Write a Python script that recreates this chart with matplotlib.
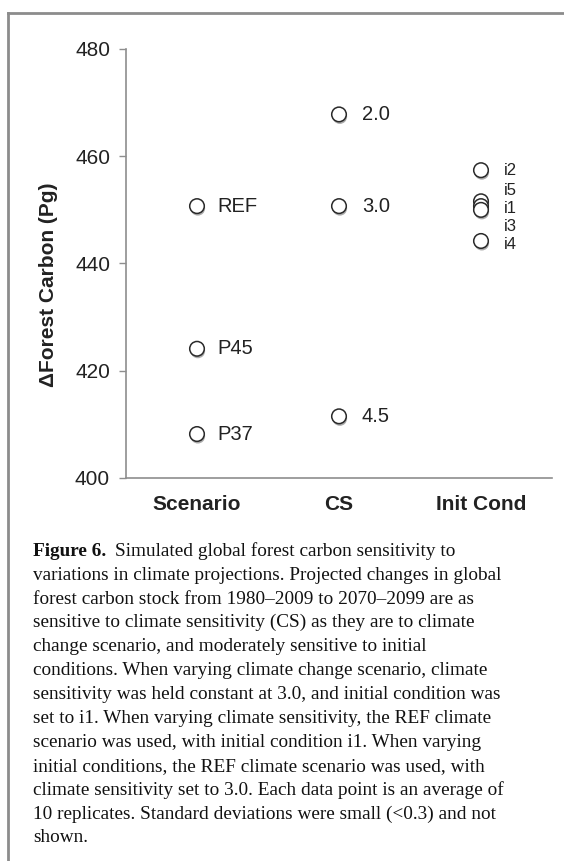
#!/usr/bin/env python3
"""Figure 6: forest carbon sensitivity to climate projection choices."""
from __future__ import annotations

import matplotlib
matplotlib.use("Agg")
import matplotlib.pyplot as plt
import matplotlib.patheffects as pe
from matplotlib.lines import Line2D

W, H, DPI = 564, 861, 100
FRAME = "#8c8c8c"
AXIS = "#8e8e8e"
INK = "#222222"

groups = ["Scenario", "CS", "Init Cond"]

scen_names = ["REF", "P45", "P37"]
scen_vals = [450.7, 424.1, 408.2]

cs_names = ["2.0", "3.0", "4.5"]
cs_vals = [467.8, 450.7, 411.5]

init_names = ["i2", "i5", "i1", "i3", "i4"]
init_vals = [457.4, 451.6, 450.7, 450.0, 444.2]

yticks = [400, 420, 440, 460, 480]

caption = [
    "variations in climate projections. Projected changes in global",
    "forest carbon stock from 1980\u20132009 to 2070\u20132099 are as",
    "sensitive to climate sensitivity (CS) as they are to climate",
    "change scenario, and moderately sensitive to initial",
    "conditions. When varying climate change scenario, climate",
    "sensitivity was held constant at 3.0, and initial condition was",
    "set to i1. When varying climate sensitivity, the REF climate",
    "scenario was used, with initial condition i1. When varying",
    "initial conditions, the REF climate scenario was used, with",
    "climate sensitivity set to 3.0. Each data point is an average of",
    "10 replicates. Standard deviations were small (<0.3) and not",
    "shown.",
]

plt.rcParams.update({"font.family": ["Liberation Sans", "DejaVu Sans"]})

fig = plt.figure(figsize=(W / DPI, H / DPI), dpi=DPI)
fig.patch.set_facecolor("white")

# grey frame round the figure panel (left and top edges)
fx, fy = 8 / W, 1 - 13 / H
fig.add_artist(Line2D([fx, fx], [0, fy], color=FRAME, lw=2, transform=fig.transFigure))
fig.add_artist(Line2D([fx, 1], [fy, fy], color=FRAME, lw=2, transform=fig.transFigure))

left, right = 126 / W, 552 / W
top, bottom = 1 - 49 / H, 1 - 478 / H
ax = fig.add_axes([left, bottom, right - left, top - bottom])

shadow = [pe.SimplePatchShadow(offset=(0.6, -1.6), shadow_rgbFace="0.35", alpha=0.5), pe.Normal()]
mk = dict(marker="o", ms=10.5, mfc="white", mec="#2a2a2a", mew=1.1, ls="none",
          path_effects=shadow, zorder=3)


def column(x, names, vals, dx, size, dys=None):
    ax.plot([x] * len(vals), vals, **mk)
    for i, (n, v) in enumerate(zip(names, vals)):
        dy = dys[i] if dys else 0
        ax.annotate(n, (x, v), xytext=(dx, dy), textcoords="offset pixels",
                    ha="left", va="center", fontsize=size, color=INK)


column(0, scen_names, scen_vals, 20, 14.5)
column(1, cs_names, cs_vals, 23, 14.5)
column(2, init_names, init_vals, 23, 12, dys=[0, 11, -2, -17, -4])

ax.set_xlim(-0.5, 2.5)
ax.set_ylim(400, 480)
ax.set_yticks(yticks)
ax.set_yticklabels([str(t) for t in yticks], fontsize=15, color=INK)
ax.set_xticks(range(len(groups)))
ax.set_xticklabels(groups, fontsize=15, fontweight="bold", color=INK)
ax.tick_params(axis="x", length=0, pad=12)
ax.tick_params(axis="y", length=5, width=1, color=AXIS, pad=6.5)
for s in ("top", "right"):
    ax.spines[s].set_visible(False)
for s in ("left", "bottom"):
    ax.spines[s].set_color(AXIS)
    ax.spines[s].set_linewidth(1.2)

fig.text(49 / W, 1 - 285 / H, "\u0394Forest Carbon (Pg)", rotation=90, ha="center",
         va="center", fontsize=15, fontweight="bold", color=INK)

# caption, one text per printed line
serif = ["Liberation Serif", "DejaVu Serif"]
cx = 33 / W
y0, step = 555.7, 23.9
fs = 13.9
r = fig.canvas.get_renderer()
head = fig.text(cx, 1 - y0 / H, "Figure 6.", fontsize=fs, fontweight="bold",
                family=serif, color="#111111", va="baseline")
bb = head.get_window_extent(renderer=r)
fig.text((bb.x1 + 9) / W, 1 - y0 / H, "Simulated global forest carbon sensitivity to",
         fontsize=fs, family=serif, color="#111111", va="baseline")
for i, line in enumerate(caption, start=1):
    fig.text(cx, 1 - (y0 + i * step) / H, line, fontsize=fs, family=serif,
             color="#111111", va="baseline")

fig.savefig("out.png", dpi=DPI, facecolor="white")
